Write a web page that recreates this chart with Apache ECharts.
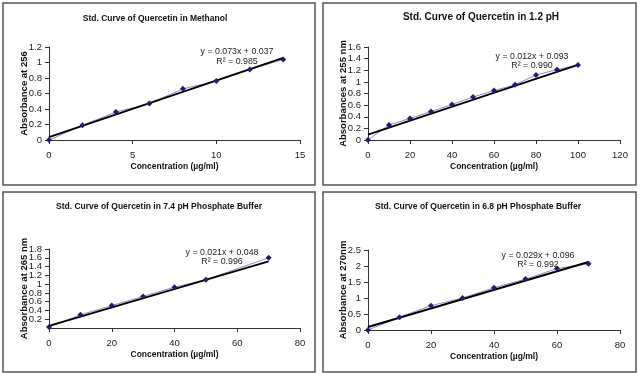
<!DOCTYPE html>
<html>
<head>
<meta charset="utf-8">
<script src="https://cdn.jsdelivr.net/npm/echarts@6/dist/echarts.min.js"></script>
<style>
  html, body { margin: 0; padding: 0; background: #fff; }
  #chart { width: 640px; height: 377px; }
</style>
</head>
<body>
<div id="chart"></div>
<script>
// 甲醇
var methX = [0, 2, 4, 6, 8, 10, 12, 14]
var methY = [0, 0.19, 0.36, 0.47, 0.66, 0.76, 0.91, 1.04]
var methFit = [0.073, 0.037]
// 1.2 pH
var ph12X = [0, 10, 20, 30, 40, 50, 60, 70, 80, 90, 100]
var ph12Y = [0, 0.26, 0.37, 0.49, 0.61, 0.74, 0.85, 0.95, 1.12, 1.21, 1.29]
var ph12Fit = [0.012, 0.093]
// 7.4 pH
var ph74X = [0, 10, 20, 30, 40, 50, 70]
var ph74Y = [0.02, 0.30, 0.51, 0.72, 0.93, 1.10, 1.60]
var ph74Fit = [0.021, 0.048]
// 6.8 pH
var ph68X = [0, 10, 20, 30, 40, 50, 60, 70]
var ph68Y = [0, 0.40, 0.76, 1.00, 1.32, 1.59, 1.92, 2.07]
var ph68Fit = [0.029, 0.096]

var titles = [
  'Std. Curve of Quercetin in Methanol',
  'Std. Curve of Quercetin in 1.2 pH',
  'Std. Curve of Quercetin in 7.4 pH Phosphate Buffer',
  'Std. Curve of Quercetin in 6.8 pH Phosphate Buffer'
]
var yNames = ['Absorbance at 256', 'Absorbances at 255 nm', 'Absorbance at 265 nm', 'Absorbance at 270nm']
var xName = 'Concentration (\u00b5g/ml)'
var eqTexts = ['y = 0.073x + 0.037', 'y = 0.012x + 0.093', 'y = 0.021x + 0.048', 'y = 0.029x + 0.096']
var r2Texts = ['R\u00b2 = 0.985', 'R\u00b2 = 0.990', 'R\u00b2 = 0.996', 'R\u00b2 = 0.992']

var xMax = [15, 120, 80, 80]
var xStep = [5, 20, 20, 20]
var yMax = [1.2, 1.6, 1.8, 2.5]
var yStep = [0.2, 0.2, 0.2, 0.5]

var allX = [methX, ph12X, ph74X, ph68X]
var allY = [methY, ph12Y, ph74Y, ph68Y]
var allFit = [methFit, ph12Fit, ph74Fit, ph68Fit]

// 四个图的位置
var grids = [
  {left: 49, top: 47, width: 251, height: 93},
  {left: 368, top: 47, width: 252, height: 93},
  {left: 49, top: 249, width: 251, height: 79},
  {left: 368, top: 250, width: 252, height: 80}
]
var boxes = [
  {x: 3, y: 3, w: 312, h: 182},
  {x: 323, y: 3, w: 313, h: 182},
  {x: 3, y: 192, w: 312, h: 180},
  {x: 323, y: 192, w: 313, h: 180}
]
var titlePos = [[155, 19], [481, 17], [159, 207], [478, 207]]
var titleSize = [8.5, 10, 8.5, 8.5]
var eqPos = [[237, 52, 237, 62], [532, 57, 532, 66], [222, 253, 222, 262], [538, 256, 538, 265]]

var font = '"Liberation Sans", Arial, sans-serif'
var option = {
  backgroundColor: '#fff',
  animation: false,
  grid: [],
  xAxis: [],
  yAxis: [],
  series: [],
  graphic: []
}

for (var i = 0; i < 4; i++) {
  option.grid.push(grids[i])
  option.xAxis.push({
    type: 'value',
    gridIndex: i,
    min: 0,
    max: xMax[i],
    interval: xStep[i],
    name: xName,
    nameLocation: 'middle',
    nameGap: 22,
    nameTextStyle: {fontFamily: font, fontWeight: 'bold', fontSize: 8.5, color: '#111'},
    axisLine: {lineStyle: {color: '#333', width: 1}},
    axisTick: {inside: false, length: 4, lineStyle: {color: '#333'}},
    axisLabel: {fontFamily: font, fontSize: 9.5, color: '#222', margin: 10},
    splitLine: {show: false}
  })
  option.yAxis.push({
    type: 'value',
    gridIndex: i,
    min: 0,
    // 浮点误差, 最后一个刻度要能显示
    max: yMax[i] + 1e-6,
    interval: yStep[i],
    name: yNames[i],
    nameLocation: 'middle',
    nameGap: 20,
    nameMoveOverlap: false,
    nameTextStyle: {fontFamily: font, fontWeight: 'bold', fontSize: 9.5, color: '#111'},
    axisLine: {show: true, lineStyle: {color: '#333', width: 1}},
    axisTick: {show: true, length: 4, lineStyle: {color: '#333'}},
    axisLabel: {
      fontFamily: font, fontSize: 9.5, color: '#222', margin: 7,
      formatter: function (v) { return String(Math.round(v * 10) / 10) }
    },
    splitLine: {show: false}
  })

  // 实测点
  var pts = []
  for (var k = 0; k < allX[i].length; k++) {
    pts.push([allX[i][k], allY[i][k]])
  }
  option.series.push({
    type: 'line',
    xAxisIndex: i,
    yAxisIndex: i,
    data: pts,
    symbol: 'diamond',
    symbolSize: 6,
    itemStyle: {color: '#1e1e6e'},
    lineStyle: {color: '#8c8cc8', width: 1}
  })

  // 线性拟合
  var xs = allX[i]
  var x0 = xs[0]
  var x1 = xs[xs.length - 1]
  var fit = allFit[i]
  option.series.push({
    type: 'line',
    xAxisIndex: i,
    yAxisIndex: i,
    data: [[x0, fit[0] * x0 + fit[1]], [x1, fit[0] * x1 + fit[1]]],
    symbol: 'none',
    lineStyle: {color: '#000', width: 2},
    z: 3
  })

  // 边框 标题 公式
  option.graphic.push({
    type: 'rect',
    shape: {x: boxes[i].x, y: boxes[i].y, width: boxes[i].w, height: boxes[i].h},
    style: {fill: 'none', stroke: '#555', lineWidth: 1.5}
  })
  option.graphic.push({
    type: 'text',
    x: titlePos[i][0],
    y: titlePos[i][1],
    style: {
      text: titles[i], fontFamily: font, fontWeight: 'bold', fontSize: titleSize[i],
      fill: '#111', align: 'center', verticalAlign: 'middle'
    }
  })
  option.graphic.push({
    type: 'text',
    x: eqPos[i][0],
    y: eqPos[i][1],
    z: 10,
    style: {
      text: eqTexts[i], fontFamily: font, fontSize: 8.8,
      fill: '#222', align: 'center', verticalAlign: 'middle'
    }
  })
  option.graphic.push({
    type: 'text',
    x: eqPos[i][2],
    y: eqPos[i][3],
    z: 10,
    style: {
      text: r2Texts[i], fontFamily: font, fontSize: 8.8,
      fill: '#222', align: 'center', verticalAlign: 'middle'
    }
  })
}

var chart = echarts.init(document.getElementById('chart'))
chart.setOption(option)
</script>
</body>
</html>
